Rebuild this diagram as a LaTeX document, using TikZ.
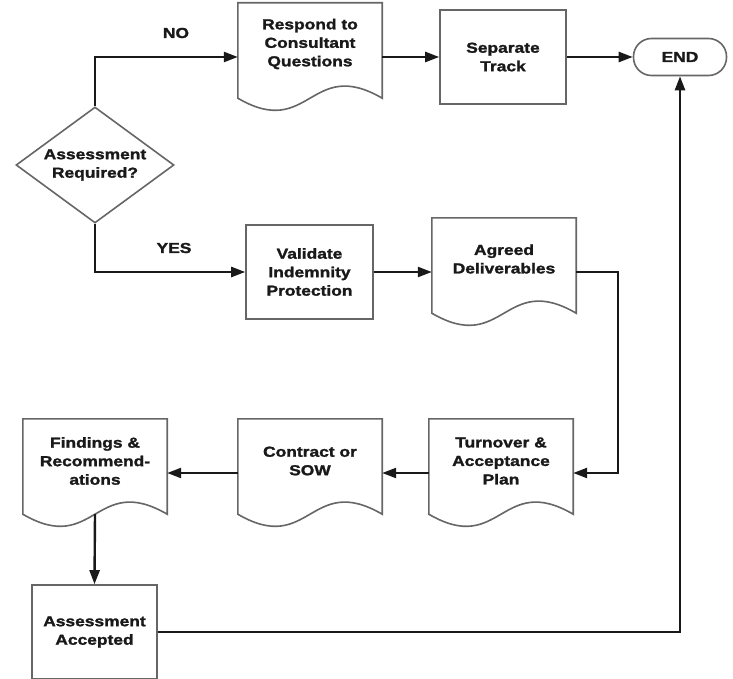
\documentclass[tikz,border=0pt]{standalone}
\usepackage{fontspec}
\newfontfamily\lblfont{Liberation Sans}[FakeStretch=1.2, BoldFeatures={FakeBold=1.6}]
\usetikzlibrary{shapes.geometric,arrows.meta,calc}
\begin{document}
\begin{tikzpicture}[x=1pt,y=-1pt,
 lbl/.style={font=\lblfont\bfseries\fontsize{14.5}{18.5}\selectfont, text=black!90, align=center, inner sep=0pt},
 outline/.style={draw=black!60, line width=1.6pt, fill=white},
 procbox/.style={outline, lbl, minimum width=126pt, minimum height=94pt},
 docbox/.style={minimum width=144pt, minimum height=108pt, inner sep=0pt},
 conn/.style={draw=black!90, line width=2.4pt, -{Triangle[length=14pt,width=10pt]}},
 plainline/.style={draw=black!90, line width=2.4pt}]
\useasboundingbox (0,0) rectangle (733,679);

% decision
\node[outline, lbl, diamond, minimum width=158pt, minimum height=116pt, shape aspect=1.36] (dec) at (95,165) {Assessment\\Required?};

% document shapes (frames)
\node[docbox] (resp) at (310,57) {};
\node[docbox] (agreed) at (504,272) {};
\node[docbox] (turn) at (501,473) {};
\node[docbox] (contract) at (310,473) {};
\node[docbox] (find) at (95,473) {};
\foreach \n in {resp,agreed,turn,contract,find}{
  \draw[outline] (\n.north west) -- (\n.north east) -- ([yshift=13pt]\n.south east)
    .. controls ([xshift=-72pt,yshift=55pt]\n.south east) and ([xshift=72pt,yshift=-29pt]\n.south west)
    .. ([yshift=13pt]\n.south west) -- cycle;
}
\node[lbl] (respT) at ([yshift=13pt]resp.center) {Respond to\\Consultant\\Questions};
\node[lbl] (agreedT) at ([yshift=13pt]agreed.center) {Agreed\\Deliverables};
\node[lbl] (turnT) at ([yshift=12pt]turn.center) {Turnover \&\\Acceptance\\Plan};
\node[lbl] (contractT) at ([yshift=12pt]contract.center) {Contract or\\SOW};
\node[lbl] (findT) at ([yshift=12pt]find.center) {Findings \&\\Recommend-\\ations};

% process boxes
\node[procbox, minimum width=127pt] (valid) at (309.5,272) {Validate\\Indemnity\\Protection};
\node[procbox] (sep) at (503,57) {Separate\\Track};
\node[procbox, minimum width=125pt] (acc) at (94.5,632) {Assessment\\Accepted};

% terminal
\node[outline, lbl, rounded corners=18pt, minimum width=93pt, minimum height=37pt] (end) at (680,57) {END};

% branch labels
\node[lbl] (noLbl) at (176,33) {NO};
\node[lbl] (yesLbl) at (174,248) {YES};

% connectors
\draw[conn] (dec.north) |- (resp.west);
\draw[conn] (dec.south) |- (valid.west);
\draw[conn] (resp.east) -- (sep.west);
\draw[conn] (sep.east) -- (end.west);
\draw[conn] (valid.east) -- (agreed.west);
\draw[conn] (agreed.east) -- ++(42,0) |- (turn.east);
\draw[conn] (turn.west) -- (contract.east);
\draw[conn] (contract.west) -- (find.east);
\draw[conn] ([yshift=13pt]find.south) -- (acc.north);
\draw[conn] (acc.east) -| (end.south);
\end{tikzpicture}
\end{document}
